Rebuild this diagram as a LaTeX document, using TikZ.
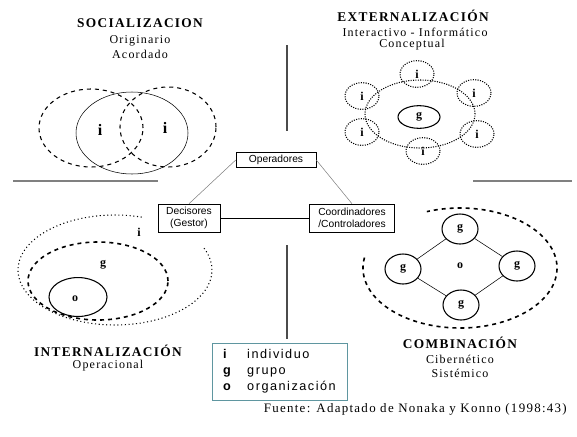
\documentclass[tikz,border=0pt]{standalone}
\usepackage{fontspec}
\setmainfont{Liberation Serif}
\setsansfont{Liberation Sans}
\newfontfamily\titlefont[LetterSpace=10]{Liberation Serif}
\newfontfamily\legendfont[LetterSpace=12]{Liberation Sans}
\usetikzlibrary{positioning,shapes.geometric}
\definecolor{legendline}{RGB}{95,150,160}
\definecolor{rulegray}{RGB}{75,75,75}

\begin{document}
\begin{tikzpicture}[x=0.75pt,y=-0.75pt,
  ttl/.style={font=\titlefont\bfseries\fontsize{10}{12}\selectfont, inner sep=0pt},
  sub/.style={font=\titlefont\fontsize{9}{11}\selectfont, inner sep=0pt},
  lbl/.style={font=\bfseries\fontsize{9}{11}\selectfont, inner sep=0pt},
  role/.style={draw, thin, font=\sffamily\fontsize{7.7}{9}\selectfont, align=center, inner sep=0pt},
  icirc/.style={ellipse, draw, densely dotted, thick, minimum width=25.5pt, minimum height=20pt, inner sep=0pt, font=\bfseries\fontsize{9}{11}\selectfont},
  gcirc/.style={ellipse, draw, thick, minimum width=27pt, minimum height=22.5pt, inner sep=0pt, font=\bfseries\fontsize{9}{11}\selectfont},
  rule/.style={rulegray, line width=1.5pt},
  legend/.style={draw=legendline, thin, minimum width=101pt, minimum height=43pt, inner xsep=5pt, font=\legendfont\fontsize{9.5}{12}\selectfont}]
  \useasboundingbox (0,0) rectangle (577,436);

  % separating rules
  \draw[rule] (287,45) -- (287,131);
  \draw[rule] (287,245) -- (287,339);
  \draw[rule, gray] (13,181) -- (158,181);
  \draw[rule, gray] (473,181) -- (572,181);

  % socializacion
  \node[ttl] (soct) at (140,23) {SOCIALIZACION};
  \node[sub] (soc1) at (140,41) {Originario};
  \node[sub] (soc2) at (140,54) {Acordado};
  \draw[dashed, thick] (91,128) ellipse [x radius=39pt, y radius=29.25pt];
  \draw[dashed, thick] (168,127) ellipse [x radius=36pt, y radius=30pt];
  \draw (132,133) ellipse [x radius=42pt, y radius=30.75pt];
  \node[lbl, font=\bfseries\fontsize{12}{14}\selectfont] (si1) at (100,130) {i};
  \node[lbl, font=\bfseries\fontsize{12}{14}\selectfont] (si2) at (165,128) {i};

  % externalizacion
  \node[ttl] (extt) at (413,16) {EXTERNALIZACIÓN};
  \node[sub] (ext1) at (415,32) {Interactivo - Informático};
  \node[sub] (ext2) at (412,45) {Conceptual};
  \draw[densely dotted, thick] (420,114) ellipse [x radius=41.25pt, y radius=25.5pt];
  \node[gcirc, minimum width=31.5pt, minimum height=17pt] (eg) at (419,117) {g};
  \node[icirc] (ei1) at (417,74) {i};
  \node[icirc] (ei2) at (474,93) {i};
  \node[icirc] (ei3) at (477,134) {i};
  \node[icirc] (ei4) at (423,151) {i};
  \node[icirc] (ei5) at (362,132) {i};
  \node[icirc] (ei6) at (362,96) {i};

  % roles
  \node[role, minimum width=60pt, minimum height=11.25pt] (oper) at (276,160) {Operadores};
  \node[role, minimum width=46.5pt, minimum height=21pt] (dec) at (189,218) {Decisores\\(Gestor)};
  \node[role, minimum width=64pt, minimum height=21pt] (coord) at (352,218) {Coordinadores\\/Controladores};
  \draw[gray] (oper.west) -- (dec.north);
  \draw[gray] (oper.east) -- (coord.north);
  \draw (dec) -- (coord);

  % internalizacion
  \coordinate (intc) at (115,270);
  \draw[dotted, thick] (intc) ++(74:72.75pt and 41.25pt) arc [start angle=74, end angle=385, x radius=72.75pt, y radius=41.25pt];
  \draw[dashed, very thick] (98,281) ellipse [x radius=52.5pt, y radius=29.25pt];
  \draw[thick] (78,297) ellipse [x radius=21.75pt, y radius=14.6pt];
  \node[lbl] (ii) at (139,232) {i};
  \node[lbl] (ig) at (103,265) {g};
  \node[lbl] (io) at (75,299) {o};
  \node[ttl] (intt) at (108,351) {INTERNALIZACIÓN};
  \node[sub] (int1) at (108,366) {Operacional};

  % combinacion
  \coordinate (comc) at (460,268);
  \draw[dashed, very thick] (comc) ++(170:72.75pt and 45pt) arc [start angle=170, end angle=470, x radius=72.75pt, y radius=45pt];
  \node[gcirc] (cg1) at (460,229) {g};
  \node[gcirc] (cg2) at (403,269) {g};
  \node[gcirc] (cg3) at (517,266) {g};
  \node[gcirc] (cg4) at (461,305) {g};
  \node[lbl] (co) at (460,266) {o};
  \draw (cg1) -- (cg2);
  \draw (cg1) -- (cg3);
  \draw (cg4) -- (cg2);
  \draw (cg4) -- (cg3);
  \node[ttl] (comt) at (460,343) {COMBINACIÓN};
  \node[sub] (com1) at (460,359) {Cibernético};
  \node[sub] (com2) at (460,373) {Sistémico};

  % leyenda y fuente
  \node[legend, align=left] (leg) at (279.5,371.5) {\makebox[18pt][l]{\bfseries i}individuo\\\makebox[18pt][l]{\bfseries g}grupo\\\makebox[18pt][l]{\bfseries o}organización};
  \node[sub, anchor=east, font=\titlefont\fontsize{9.7}{11}\selectfont] (src) at (567,409) {Fuente: Adaptado de Nonaka y Konno (1998:43)};
\end{tikzpicture}
\end{document}
